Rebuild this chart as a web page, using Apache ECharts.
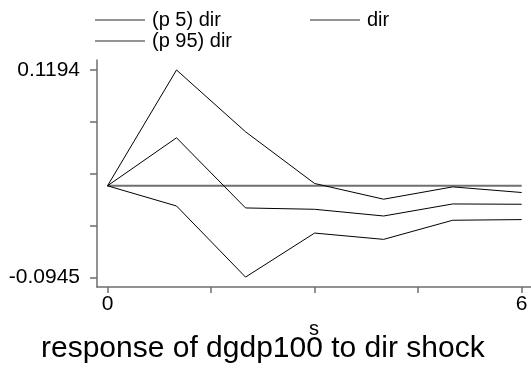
<!DOCTYPE html>
<html>
<head>
<meta charset="utf-8">
<script src="https://cdn.jsdelivr.net/npm/echarts@6/dist/echarts.min.js"></script>
<style>
  html, body { margin: 0; padding: 0; background: #fff; }
  #chart { width: 531px; height: 368px; }
</style>
</head>
<body>
<div id="chart"></div>
<script>
// Impulse response of dgdp100 to a dir shock, with 5th/95th percentile bands
const steps = [0, 1, 2, 3, 4, 5, 6];
const p5Dir = [0, -0.0208, -0.0941, -0.0487, -0.0552, -0.0355, -0.0348];
const irfDir = [0, 0.0495, -0.0228, -0.0242, -0.0311, -0.0187, -0.0190];
const p95Dir = [0, 0.1194, 0.0557, 0.0024, -0.0138, -0.0011, -0.0069];
const zeroLine = [0, 0, 0, 0, 0, 0, 0];

const xTicks = [0, 1.5, 3, 4.5, 6];
const xTickLabels = [0, 6];
const yTicks = [-0.0945, -0.041025, 0.01245, 0.065925, 0.1194];
const yTickLabels = [-0.0945, 0.1194];

const FONT = 'Liberation Sans, Arial, sans-serif';
const AXIS_COLOR = '#6e6e6e';

const pairs = ys => steps.map((s, i) => [s, ys[i]]);

const lineSeries = (name, ys, color, width) => ({
  name: name,
  type: 'line',
  data: pairs(ys),
  symbol: 'none',
  silent: true,
  animation: false,
  lineStyle: { color: color, width: width },
  itemStyle: { color: color }
});

const legendBase = {
  orient: 'horizontal',
  icon: 'rect',
  itemWidth: 50,
  itemHeight: 1.6,
  itemGap: 0,
  padding: 0,
  selectedMode: false,
  itemStyle: { color: '#707070' },
  textStyle: { fontFamily: FONT, fontSize: 20, color: '#000', padding: [0, 0, 0, 2] }
};

const chart = echarts.init(document.getElementById('chart'), null, { renderer: 'canvas' });
chart.setOption({
  backgroundColor: '#fff',
  animation: false,
  title: {
    text: 'response of dgdp100 to dir shock',
    left: 41,
    top: 334,
    padding: 0,
    textStyle: { fontFamily: FONT, fontSize: 30, fontWeight: 'normal', color: '#000' }
  },
  legend: [
    Object.assign({}, legendBase, { left: 95, top: 10, data: ['(p 5) dir'] }),
    Object.assign({}, legendBase, { left: 310, top: 10, data: ['dir'] }),
    Object.assign({}, legendBase, { left: 95, top: 31, data: ['(p 95) dir'] })
  ],
  grid: { left: 97, right: 0, top: 60, bottom: 81, containLabel: false },
  xAxis: {
    type: 'value',
    min: -0.152,
    max: 6.135,
    name: 's',
    nameLocation: 'middle',
    nameGap: 27,
    nameTextStyle: { fontFamily: FONT, fontSize: 20, color: '#000' },
    axisLine: { show: true, onZero: false, lineStyle: { color: AXIS_COLOR, width: 1.5 } },
    axisTick: { show: true, length: 6, customValues: xTicks, lineStyle: { color: AXIS_COLOR, width: 1.5 } },
    axisLabel: { show: true, margin: 7, customValues: xTickLabels, fontFamily: FONT, fontSize: 21, color: '#000' },
    splitLine: { show: false }
  },
  yAxis: {
    type: 'value',
    min: -0.1043,
    max: 0.1297,
    axisLine: { show: true, onZero: false, lineStyle: { color: AXIS_COLOR, width: 1.5 } },
    axisTick: { show: true, length: 7, customValues: yTicks, lineStyle: { color: AXIS_COLOR, width: 1.5 } },
    axisLabel: {
      show: true, margin: 17, customValues: yTickLabels,
      fontFamily: FONT, fontSize: 21, color: '#000',
      formatter: v => v.toFixed(4)
    },
    splitLine: { show: false }
  },
  series: [
    lineSeries('(p 5) dir', p5Dir, '#000', 1),
    lineSeries('dir', irfDir, '#000', 1),
    lineSeries('(p 95) dir', p95Dir, '#000', 1),
    Object.assign(lineSeries('zero', zeroLine, '#707070', 2), { z: 1 })
  ]
});
</script>
</body>
</html>
